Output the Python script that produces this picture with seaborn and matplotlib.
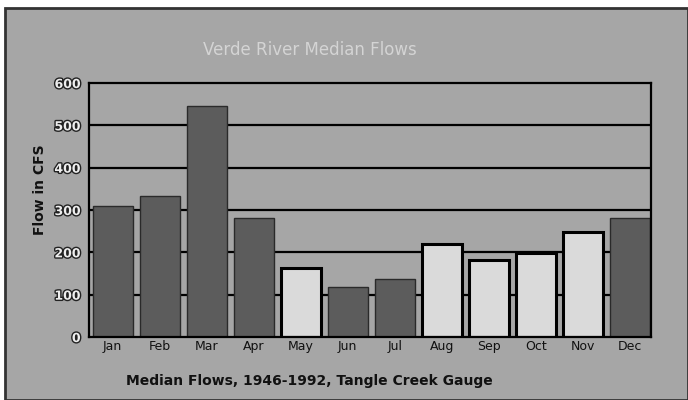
import pandas as pd
import matplotlib.pyplot as plt
import matplotlib.patheffects as pe
from matplotlib.patches import Rectangle
import seaborn as sns

# === DATA ===
MONTHS = ['Jan', 'Feb', 'Mar', 'Apr', 'May', 'Jun',
          'Jul', 'Aug', 'Sep', 'Oct', 'Nov', 'Dec']
FLOWS = [310, 334, 545, 280, 163, 118, 137, 220, 182, 199, 249, 280]
SHADE = ['dark', 'dark', 'dark', 'dark', 'light', 'dark',
         'dark', 'light', 'light', 'light', 'light', 'dark']
Y_TICKS = [0, 100, 200, 300, 400, 500, 600]

BG = '#a6a6a6'
COLORS = {'dark': '#5c5c5c', 'light': '#dadada'}

df = pd.DataFrame({'month': MONTHS, 'flow': FLOWS, 'shade': SHADE})

sns.set_style('white', rc={'axes.facecolor': BG, 'axes.edgecolor': 'black'})

fig = plt.figure(figsize=(6.88, 4.0), dpi=100, facecolor='white')
# grey panel with dark frame, white strip at top/left
fig.patches.append(Rectangle((5 / 688, 0), 1 - 5 / 688, 392 / 400,
                             transform=fig.transFigure, facecolor=BG,
                             edgecolor='#333333', linewidth=2, zorder=-10))
ax = fig.add_axes([89 / 688, 63 / 400, 562 / 688, 254 / 400])

for y in Y_TICKS[1:-1]:
    ax.axhline(y, color='black', linewidth=1.6, zorder=0)

sns.barplot(data=df, x='month', y='flow', hue='shade', palette=COLORS,
            width=0.85, dodge=False, legend=False, ax=ax, zorder=2)
for bar in ax.patches:
    if bar.get_height() <= 0:
        continue
    light = abs(bar.get_facecolor()[0] - 0.85) < 0.05
    bar.set_edgecolor('black' if light else '#2a2a2a')
    bar.set_linewidth(2.2 if light else 1.0)

ax.set_ylim(0, 600)
ax.set_xlim(-0.5, 11.45)
ax.set_yticks(Y_TICKS)
ax.set_xlabel('')
ax.set_ylabel('')
for sp in ax.spines.values():
    sp.set_color('black')
    sp.set_linewidth(1.6)
ax.tick_params(axis='x', length=0, labelsize=9, labelcolor='#111111', pad=2)
ax.tick_params(axis='y', length=0, labelsize=9, labelcolor='#eeeeee', pad=6)
for t in ax.get_yticklabels():
    t.set_fontweight('bold')
    t.set_path_effects([pe.withStroke(linewidth=2, foreground='#222222')])

fig.text(310 / 688, 350 / 400, 'Verde River Median Flows', ha='center',
         va='center', fontsize=12, color='#d4d4d4')
fig.text(309 / 688, 19 / 400, 'Median Flows, 1946-1992, Tangle Creek Gauge',
         ha='center', va='center', fontsize=10, fontweight='bold',
         color='#111111')
fig.text(40 / 688, 210 / 400, 'Flow in CFS', ha='center', va='center',
         rotation=90, fontsize=10, fontweight='bold', color='#111111')

plt.savefig('out.png', dpi=100, facecolor=fig.get_facecolor())
